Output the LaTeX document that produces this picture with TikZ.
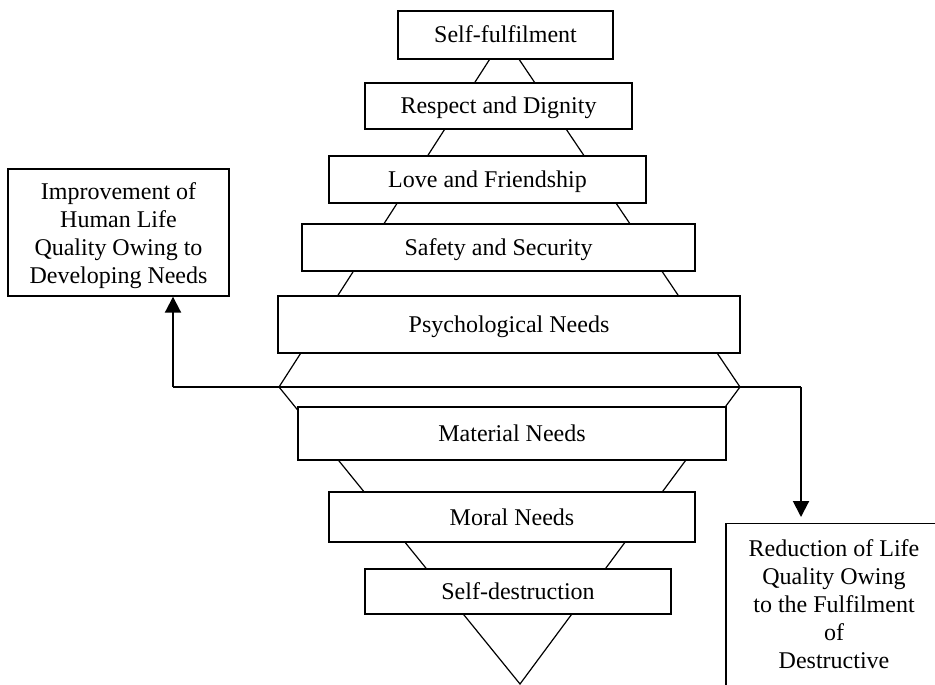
\documentclass[tikz,border=0pt]{standalone}
\usepackage{fontspec}
\setmainfont{Liberation Serif}
\usetikzlibrary{arrows.meta}

\begin{document}
\begin{tikzpicture}[x=0.5pt, y=-0.5pt, font=\fontsize{12}{14}\selectfont,
        level/.style={draw, rectangle, fill=white, line width=0.7pt, inner sep=0pt, text height=8pt, text depth=0pt},
        note/.style={draw, rectangle, fill=white, line width=0.7pt, align=center, inner sep=0pt},
        edge/.style={line width=0.6pt},
        arr/.style={line width=1pt, -{Triangle[width=8pt, length=8pt]}}]
        \useasboundingbox (0,0) rectangle (935,684);
        \clip (0,0) rectangle (935,684);

        % Corners of the two triangles
        \coordinate (apex) at (504,37);
        \coordinate (baseL) at (279,387);
        \coordinate (baseR) at (740,387);
        \coordinate (tip) at (520,684);
        \coordinate (turnL) at (173,387);
        \coordinate (turnR) at (801,387);

        % Triangles behind the boxes
        \draw [edge] (baseL) -- (apex) -- (baseR);
        \draw [edge] (baseL) -- (tip) -- (baseR);
        \draw [edge] (turnL) -- (turnR);

        % Nodes for developing needs
        \node [level, minimum width=107.5pt, minimum height=24pt] (fulfil) at (505.5,35) {Self-fulfilment};
        \node [level, minimum width=133.5pt, minimum height=23pt] (respect) at (498.5,106) {Respect and Dignity};
        \node [level, minimum width=158.5pt, minimum height=23.5pt] (love) at (487.5,179.5) {Love and Friendship};
        \node [level, minimum width=196.5pt, minimum height=23.5pt] (safety) at (498.5,247.5) {Safety and Security};
        \node [level, minimum width=231pt, minimum height=28.5pt] (psych) at (509,324.5) {Psychological Needs};

        % Nodes for destructive needs
        \node [level, minimum width=214pt, minimum height=26.5pt] (material) at (512,433.5) {Material Needs};
        \node [level, minimum width=183pt, minimum height=25pt] (moral) at (512,517) {Moral Needs};
        \node [level, minimum width=153pt, minimum height=22.5pt] (selfdes) at (518,591.5) {Self-destruction};

        % Outcomes
        \node [note, minimum width=110.5pt, minimum height=63.5pt] (improve) at (118.5,232.5) {};
        \node [align=center, anchor=north, inner sep=0pt] (improvetext) at ([yshift=-7pt]improve.north) {Improvement of\\Human Life\\Quality Owing to\\Developing Needs};
        \node [note, minimum width=108pt, minimum height=100pt, anchor=north] (reduce) at (834,523) {};
        \node [align=center, anchor=north, inner sep=0pt] (reducetext) at ([yshift=-8pt]reduce.north) {Reduction of Life\\Quality Owing\\to the Fulfilment\\of\\Destructive};

        % Arrows for outcomes
        \draw [arr] (turnL) -- (turnL |- improve.south);
        \draw [arr, shorten >=3pt] (turnR) -- (turnR |- reduce.north);
    \end{tikzpicture}
\end{document}
